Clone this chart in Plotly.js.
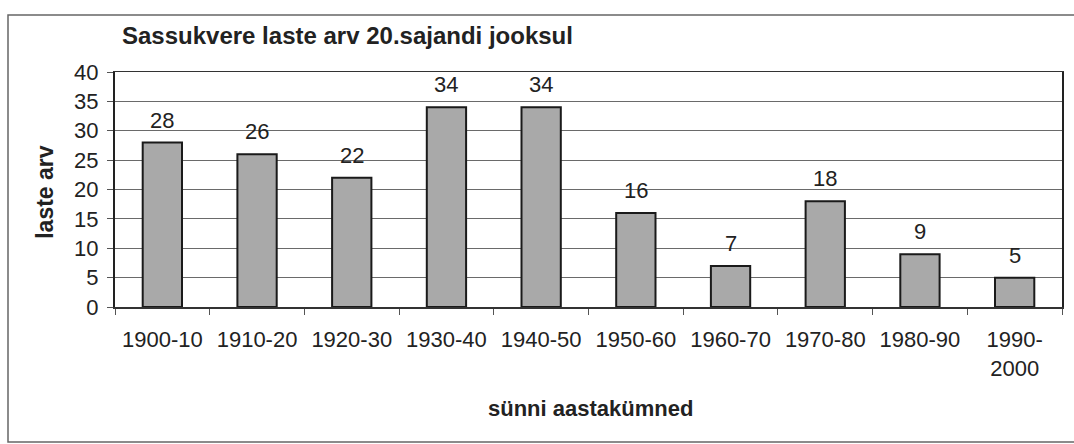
<!DOCTYPE html>
<html>
<head>
<meta charset="utf-8">
<script src="https://cdn.plot.ly/plotly-3.0.1.min.js"></script>
<style>html,body{margin:0;padding:0;background:#fff;}#chart{width:1074px;height:444px;}</style>
</head>
<body>
<div id="chart"></div>
<script>
var categories = ["1900-10","1910-20","1920-30","1930-40","1940-50","1950-60","1960-70","1970-80","1980-90","1990-2000"];
var tickLabels = ["1900-10","1910-20","1920-30","1930-40","1940-50","1950-60","1960-70","1970-80","1980-90","1990-<br>2000"];
var values = [28, 26, 22, 34, 34, 16, 7, 18, 9, 5];
var yTicks = [0, 5, 10, 15, 20, 25, 30, 35, 40];

var FONT = "Liberation Sans, Arial, sans-serif";

var trace = {
  type: "bar",
  x: categories,
  y: values,
  marker: {color: "#a9a9a9", line: {color: "#1a1a1a", width: 2}},
  hoverinfo: "skip"
};

var annotations = categories.map(function(c, i) {
  return {
    x: c, y: values[i], xref: "x", yref: "y",
    text: String(values[i]), showarrow: false,
    yanchor: "bottom", yshift: 8,
    font: {family: FONT, size: 22, color: "#222"}
  };
});
annotations.push({
  xref: "paper", yref: "paper", x: -0.074, y: 0.49,
  text: "<b>laste arv</b>", textangle: -90, showarrow: false,
  xanchor: "center", yanchor: "middle",
  font: {family: FONT, size: 23, color: "#222"}
});
annotations.push({
  xref: "paper", yref: "paper", x: 0.502, y: -0.43,
  text: "<b>sünni aastakümned</b>", showarrow: false,
  xanchor: "center", yanchor: "middle",
  font: {family: FONT, size: 22, color: "#222"}
});

var layout = {
  width: 1074, height: 444,
  margin: {l: 115, r: 12, t: 72, b: 137},
  paper_bgcolor: "#fff", plot_bgcolor: "#fff",
  showlegend: false,
  bargap: 0.585,
  title: {
    text: "<b>Sassukvere laste arv 20.sajandi jooksul</b>",
    xref: "container", yref: "container",
    x: 122/1074, xanchor: "left",
    y: 1 - 36/444, yanchor: "middle",
    font: {family: FONT, size: 24, color: "#222"}
  },
  xaxis: {
    type: "category",
    tickvals: categories, ticktext: tickLabels,
    ticks: "outside", tickson: "boundaries", ticklen: 6, tickcolor: "#555", tickwidth: 1,
    showline: true, linecolor: "#333", linewidth: 1.5, mirror: true,
    showgrid: false, zeroline: false,
    ticklabelstandoff: 12,
    tickfont: {family: FONT, size: 22, color: "#222"}
  },
  yaxis: {
    range: [0, 40],
    tickvals: yTicks,
    ticks: "outside", ticklen: 6, tickcolor: "#555", tickwidth: 1,
    showline: true, linecolor: "#222", linewidth: 2, mirror: true,
    showgrid: true, gridcolor: "#6a6a6a", gridwidth: 1,
    zeroline: false,
    ticklabelstandoff: 4,
    tickfont: {family: FONT, size: 22, color: "#222"}
  },
  shapes: [{
    type: "rect", xref: "paper", yref: "paper",
    x0: (8 - 115) / 947, x1: (1090 - 115) / 947,
    y0: (307 - 442) / 235, y1: (307 - 15) / 235,
    line: {color: "#666", width: 1.5}, fillcolor: "rgba(0,0,0,0)", layer: "below"
  }],
  annotations: annotations
};

Plotly.newPlot("chart", [trace], layout, {staticPlot: true, displayModeBar: false});
</script>
</body>
</html>
